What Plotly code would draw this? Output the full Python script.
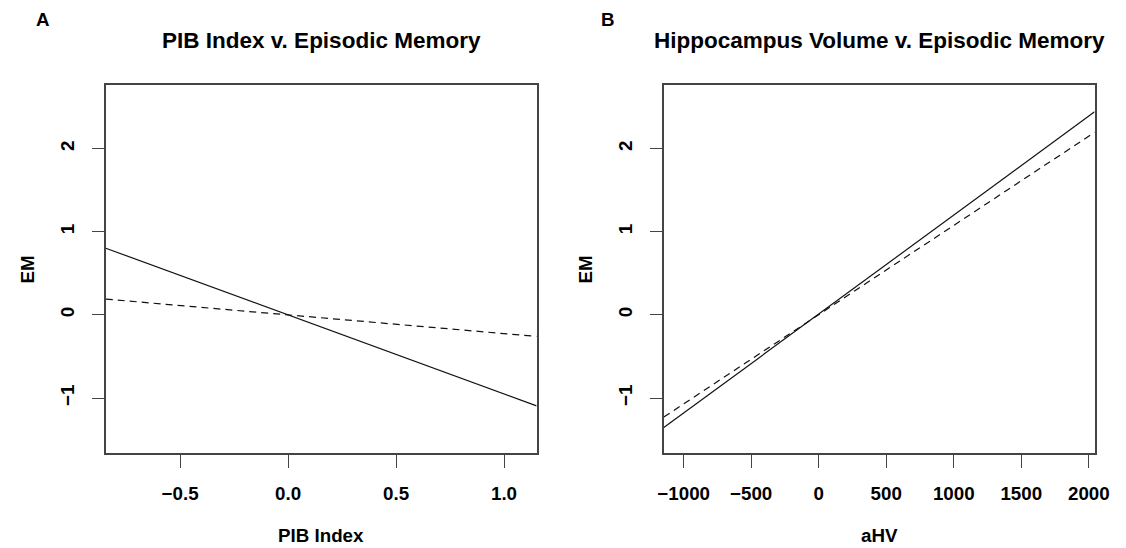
import plotly.graph_objects as go

# ---- data ----
panel_letters = ["A", "B"]
panel_titles = ["PIB Index v. Episodic Memory", "Hippocampus Volume v. Episodic Memory"]
x_titles = ["PIB Index", "aHV"]
y_title = "EM"

# regression lines: (intercept, slope)
pib_solid = (0.0, -0.95)
pib_dashed = (0.0, -0.225)
ahv_solid = (0.01, 0.00119)
ahv_dashed = (0.003, 0.001073)

pib_xrange = [-0.844, 1.151]
ahv_xrange = [-1147, 2043]
y_range = [-1.664, 2.764]

pib_ticks = [-0.5, 0.0, 0.5, 1.0]
pib_ticktext = ["\u22120.5", "0.0", "0.5", "1.0"]
ahv_ticks = [-1000, -500, 0, 500, 1000, 1500, 2000]
ahv_ticktext = ["\u22121000", "\u2212500", "0", "500", "1000", "1500", "2000"]
y_ticks = [-1, 0, 1, 2]
y_ticktext = ["\u22121", "0", "1", "2"]

# ---- figure ----
W, H = 1126, 548
FONT = "Liberation Sans, Arial, Helvetica, sans-serif"
fs = 18.75
line_col = "#111111"
box_col = "#444444"

fig = go.Figure()

def add_line(coef, xr, dash, xa, ya):
    a, b = coef
    xs = list(xr)
    ys = [a + b * v for v in xs]
    fig.add_trace(go.Scatter(x=xs, y=ys, mode="lines", xaxis=xa, yaxis=ya,
                             line=dict(color=line_col, width=1.2, dash=dash),
                             showlegend=False, hoverinfo="skip"))

add_line(pib_solid, pib_xrange, "solid", "x", "y")
add_line(pib_dashed, pib_xrange, "7px,5px", "x", "y")
add_line(ahv_solid, ahv_xrange, "solid", "x2", "y2")
add_line(ahv_dashed, ahv_xrange, "7px,5px", "x2", "y2")

domA = [101.7 / W, 540.7 / W]
domB = [670.3 / W, 1109.3 / W]
ydom = [1 - 453.3 / H, 1 - 85 / H]

common_axis = dict(showline=True, mirror=True, linecolor=box_col, linewidth=1.5,
                   ticks="outside", ticklen=12.5, tickwidth=1.2, tickcolor=box_col,
                   showgrid=False, zeroline=False,
                   tickfont=dict(family=FONT, size=fs, color="#000", weight="bold"))

fig.update_layout(
    width=W, height=H, margin=dict(l=0, r=0, t=0, b=0),
    paper_bgcolor="white", plot_bgcolor="white", showlegend=False,
    xaxis=dict(domain=domA, range=pib_xrange, tickvals=pib_ticks, ticktext=pib_ticktext,
               anchor="y", ticklabelstandoff=10, **common_axis),
    yaxis=dict(domain=ydom, range=y_range, tickvals=y_ticks, ticktext=y_ticktext,
               anchor="x", tickangle=-90, ticklabelstandoff=10, **common_axis),
    xaxis2=dict(domain=domB, range=ahv_xrange, tickvals=ahv_ticks, ticktext=ahv_ticktext,
                anchor="y2", ticklabelstandoff=10, **common_axis),
    yaxis2=dict(domain=ydom, range=y_range, tickvals=y_ticks, ticktext=y_ticktext,
                anchor="x2", tickangle=-90, ticklabelstandoff=10, **common_axis),
)

annos = []
centers = [(domA[0] + domA[1]) / 2, (domB[0] + domB[1]) / 2]
lefts = [domA[0], domB[0]]
letter_x = [38 / W, 613 / W]
for i in range(2):
    annos.append(dict(text=panel_titles[i], x=centers[i], y=1 - 40 / H, xref="paper", yref="paper",
                      xanchor="center", yanchor="middle", showarrow=False,
                      font=dict(family=FONT, size=22.5, color="#000", weight="bold")))
    annos.append(dict(text=panel_letters[i], x=letter_x[i], y=1 - 20 / H, xref="paper", yref="paper",
                      xanchor="center", yanchor="middle", showarrow=False,
                      font=dict(family=FONT, size=fs, color="#000", weight="bold")))
    annos.append(dict(text=x_titles[i], x=centers[i], y=1 - 535.5 / H, xref="paper", yref="paper",
                      xanchor="center", yanchor="middle", showarrow=False,
                      font=dict(family=FONT, size=fs, color="#000", weight="bold")))
    annos.append(dict(text=y_title, x=lefts[i] - 80 / W, y=(ydom[0] + ydom[1]) / 2,
                      xref="paper", yref="paper", textangle=-90,
                      xanchor="center", yanchor="middle", showarrow=False,
                      font=dict(family=FONT, size=fs, color="#000", weight="bold")))
fig.update_layout(annotations=annos)

fig.write_html("out.html")
